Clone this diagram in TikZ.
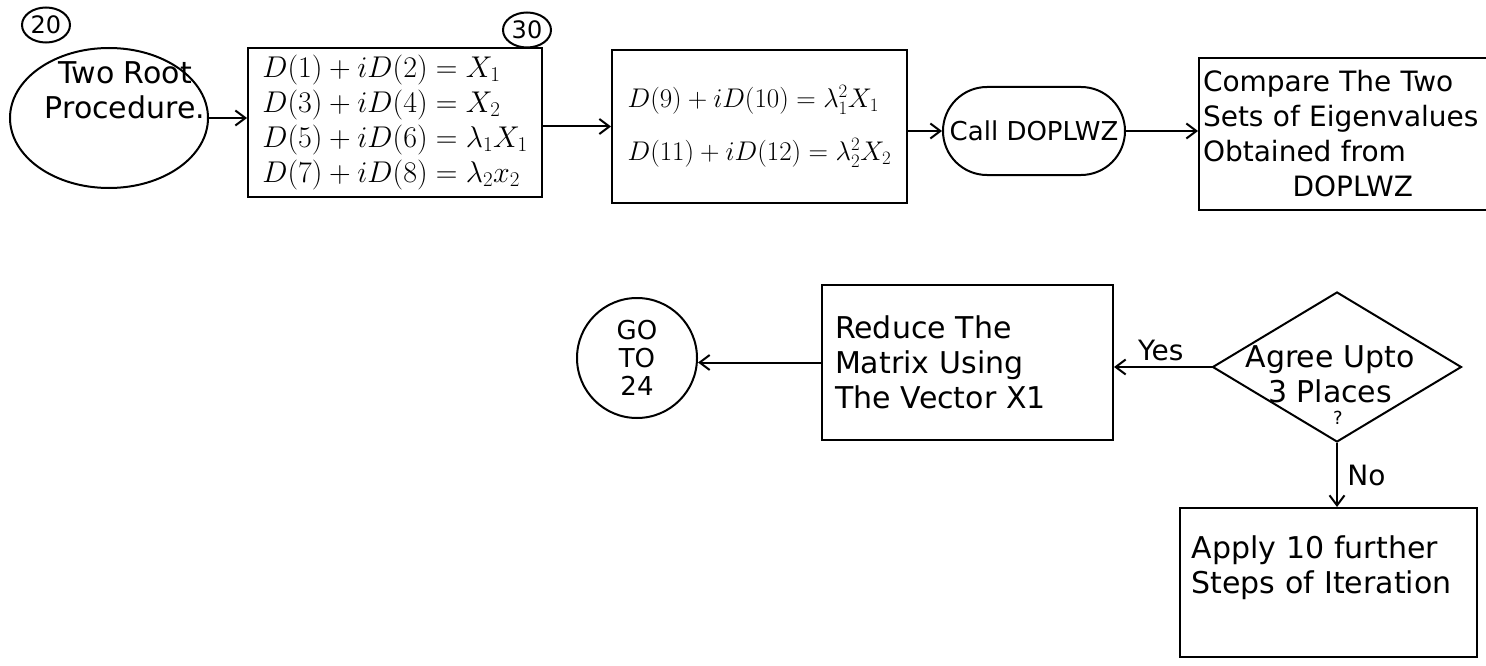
\RequirePackage{fix-cm}
\documentclass[tikz,border=0pt]{standalone}
\usepackage{fontspec}
\setmainfont{DejaVu Sans}
\usetikzlibrary{shapes.geometric, arrows.meta, positioning, calc}

\begin{document}
\begin{tikzpicture}[x=1pt, y=-1pt, line width=2pt,
      txt/.style={font=\fontsize{30}{35}\selectfont, align=left},
      blk/.style={txt, rectangle, draw, inner sep=4pt},
      num/.style={ellipse, draw, inner sep=0pt, minimum width=48pt,
        minimum height=35pt, font=\fontsize{24}{26}\selectfont},
      arr/.style={-{Straight Barb[length=10pt, width=15pt]}}
    ]
      \clip (0,0) rectangle (1486,666);
      \fill[white] (0,0) rectangle (1486,666);

      \node[ellipse, draw, inner sep=0pt, minimum width=198pt, minimum height=140pt] (tr) at (109,118) {};
      \node[txt, align=center] (trt) at (125,90) {Two Root\\Procedure.};
      \node[num, fill=white] (n20) at (46,25) {20};

      \node[blk, minimum width=294pt, minimum height=149pt] (b1) at (395,122.5)
        {$D(1)+iD(2) = X_1$\\$D(3)+iD(4) = X_2$\\$D(5)+iD(6) = \lambda_1X_1$\\$D(7)+iD(8) = \lambda_2x_2$};
      \node[num, fill=white] (n30) at (527,30) {30};

      \node[blk, minimum width=295pt, minimum height=153pt,
        font=\fontsize{27}{35}\selectfont] (b2) at (759.5,126.5)
        {$D(9)+iD(10) = \lambda_1^2X_1$\\[18pt]$D(11)+iD(12) = \lambda_2^2X_2$};
      \node[blk, rounded corners=44pt, minimum width=182pt, minimum height=88pt,
        font=\fontsize{26}{30}\selectfont] (cl) at (1034,131) {Call DOPLWZ};
      \node[blk, minimum height=152pt, text width=300pt,
        font=\fontsize{28}{35}\selectfont] (b3) at (1353,134)
        {Compare The Two\\Sets of Eigenvalues\\Obtained from\\\hspace*{3.2em}DOPLWZ};

      \node[circle, draw, inner sep=0pt, minimum size=120pt, align=center,
        font=\fontsize{26}{28}\selectfont] (go) at (637,358) {GO\\TO\\24};
      \node[blk, minimum width=291pt, minimum height=155pt, text width=265pt] (b4) at (967.5,362.5)
        {Reduce The\\Matrix Using\\The Vector X1};
      \node[diamond, draw, inner sep=0pt, minimum width=249pt, minimum height=150pt] (dm) at (1337,367) {};
      \node[txt, align=center] (dmt) at (1330,374) {Agree Upto\\3 Places};
      \node[font=\fontsize{18}{20}\selectfont] (qm) at (1338,418) {?};
      \node[blk, minimum width=297pt, minimum height=149pt, text width=274pt] (b5) at (1328.5,582.5)
        {Apply 10 further\\Steps of Iteration\\\mbox{}};

      \draw[arr] (tr.east) -- (tr.east -| b1.west);
      \draw[arr] (b1.east |- b2) -- (b2.west);
      \draw[arr] (b2.east |- cl) -- (cl.west);
      \draw[arr] (cl.east) -- (cl.east -| b3.west);
      \draw[arr] (dm.west) -- (dm.west -| b4.east) node[txt, midway, above=2pt, xshift=-2pt, font=\fontsize{28}{30}\selectfont] (yes) {Yes};
      \draw[arr] (b4.west) -- (b4.west -| go.east);
      \draw[arr] (dm.south) -- (dm.south |- b5.north) node[txt, midway, right=6pt, font=\fontsize{28}{30}\selectfont] (no) {No};
    \end{tikzpicture}
\end{document}
